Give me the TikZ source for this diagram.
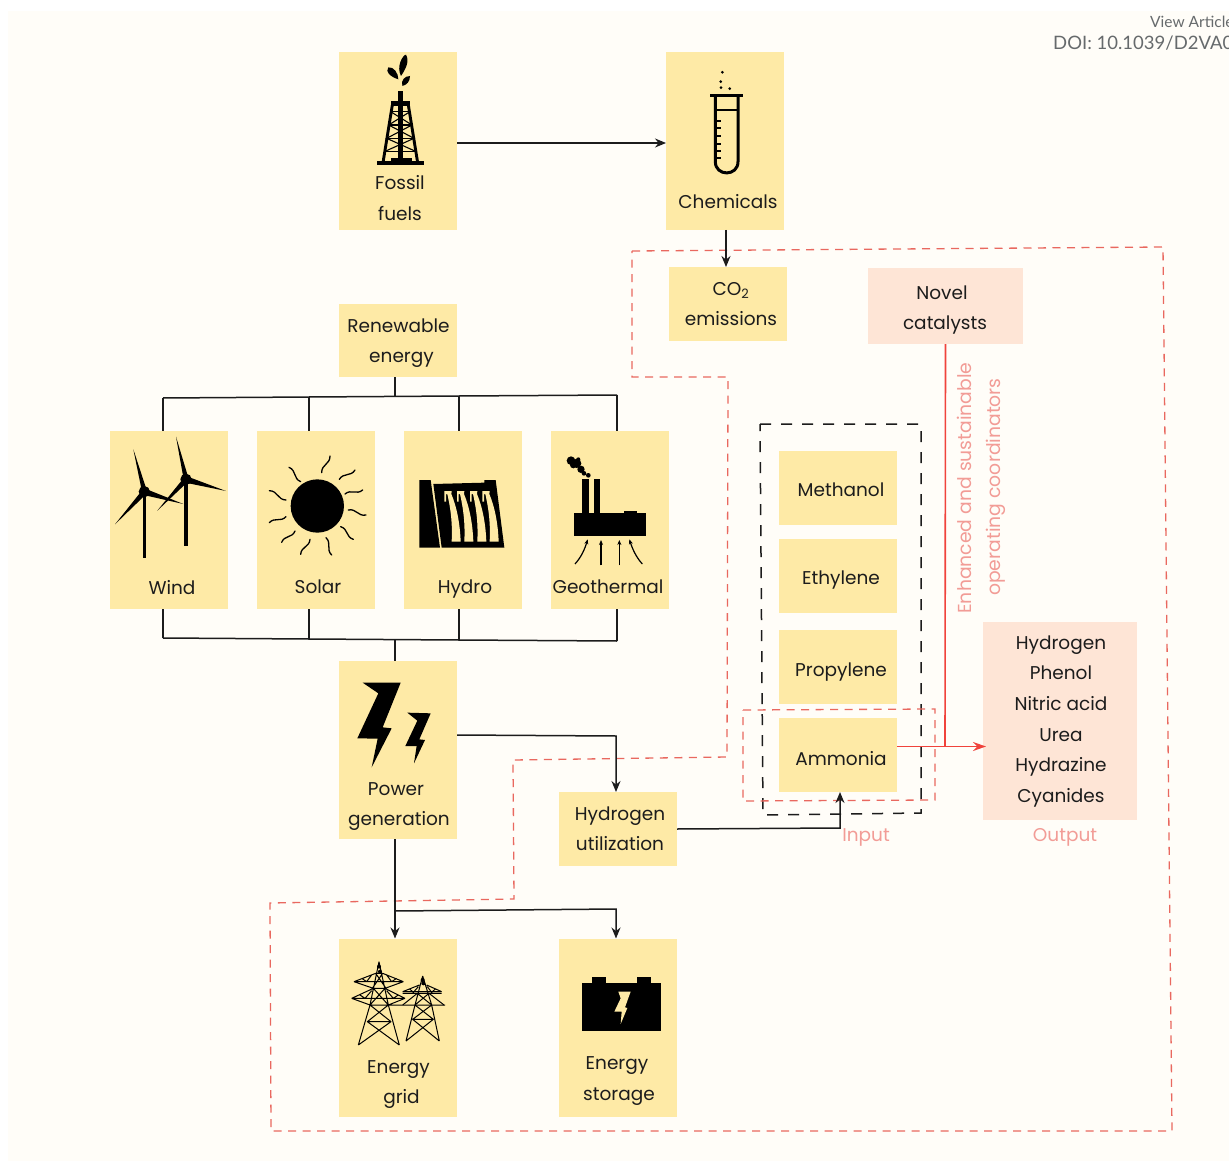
\documentclass[tikz,border=0pt]{standalone}
\usepackage{fontspec}
\setmainfont{Poppins}
\newfontfamily\doifont{Lato}
\usetikzlibrary{arrows.meta,calc}
\definecolor{boxy}{HTML}{FEEAA6}
\definecolor{boxp}{HTML}{FEE5D6}
\definecolor{pagebg}{HTML}{FFFDF8}
\definecolor{ink}{HTML}{1C1C1C}
\definecolor{redsolid}{HTML}{F0433C}
\definecolor{reddash}{HTML}{E9685F}
\definecolor{softred}{HTML}{F29C96}
\definecolor{greytxt}{HTML}{666A6C}
\tikzset{
  x=1pt,y=-1pt,
  tallbox/.style={fill=boxy,draw=none,inner sep=0,outer sep=0,minimum width=118pt,minimum height=178pt},
  shortbox/.style={fill=boxy,draw=none,inner sep=0,outer sep=0,minimum width=118pt,minimum height=74pt},
  peachbox/.style={fill=boxp,draw=none,inner sep=0,outer sep=0},
  lbl/.style={inner sep=0,outer sep=0,text=ink,align=center,yshift=-4pt,
    font=\fontsize{18.5}{30.6}\selectfont,
    execute at begin node={\rule[-8pt]{0pt}{16pt}},
    execute at end node={\rule[-8pt]{0pt}{16pt}}},
  softlbl/.style={lbl,text=softred},
  rotlbl/.style={inner sep=0,text=softred,rotate=90,font=\fontsize{18.8}{22}\selectfont},
  link/.style={draw=ink,line width=1.5pt},
  arrowlink/.style={link,-{Stealth[length=11pt,width=9pt]}},
  redlink/.style={draw=redsolid,line width=1.6pt},
  redarrow/.style={redlink,-{Stealth[length=13pt,width=9pt]}},
  reddashed/.style={draw=reddash,line width=1.3pt,dash pattern=on 8pt off 6.5pt},
  blackdashed/.style={draw=ink,line width=1.5pt,dash pattern=on 11pt off 10pt},
  icon/.style={fill=black,draw=none},
  iconline/.style={draw=black,fill=none},
  zoomed/.style={x=.33333pt,y=-.33333pt},
}
\begin{document}
\begin{tikzpicture}
\clip (0,0) rectangle (1229,1161);
\fill[white] (0,0) rectangle (1229,1161);
\fill[pagebg] (8,11) rectangle (1229,1161);

% ---------- boxes
\node[tallbox] (fossil) at (398,141) {};
\node[tallbox] (chem) at (725,141) {};
\node[shortbox] (co2) at (728,304) {};
\node[peachbox,minimum width=155pt,minimum height=76pt] (novel) at (945.5,306) {};
\node[shortbox,minimum height=73pt] (renew) at (398,340.5) {};
\node[tallbox] (wind) at (169,520) {};
\node[tallbox] (solar) at (316,520) {};
\node[tallbox] (hydro) at (463,520) {};
\node[tallbox] (geo) at (610,520) {};
\node[tallbox] (power) at (398,750) {};
\node[shortbox] (hyd) at (618,829) {};
\node[tallbox] (grid) at (398,1027.5) {};
\node[tallbox] (storage) at (618,1027.5) {};
\node[shortbox] (meth) at (838,488) {};
\node[shortbox] (ethy) at (838,576) {};
\node[shortbox] (prop) at (838,667) {};
\node[shortbox] (ammo) at (838,755) {};
\node[peachbox,minimum width=154pt,minimum height=198pt] (out) at (1060,721) {};

% ---------- region frames
\draw[reddashed] (632,251) -- (1163,247) -- (1172,1131) -- (271,1131) -- (270,903) -- (514,899) -- (513,760) -- (727,757) -- (728,377) -- (632,377) -- cycle;
\draw[blackdashed] (760,424) -- (921,424) -- (921,813) -- (763,815) -- cycle;
\draw[reddashed] (743,710) -- (935,709) -- (935,800) -- (743,801) -- cycle;

% ---------- junctions
\coordinate (topbar) at (395,396.5);
\coordinate (topW) at (163,398);
\coordinate (topS) at (309,397);
\coordinate (topH) at (459,396);
\coordinate (topG) at (617,395);
\coordinate (botbar) at (395,640);
\coordinate (botW) at (163,638);
\coordinate (botS) at (309,639);
\coordinate (botH) at (459,640);
\coordinate (botG) at (617,641);
\coordinate (pwrturn) at (616,736);
\coordinate (gridfork) at (395,911);
\coordinate (storturn) at (616,909);
\coordinate (inturn) at (840,828);
\coordinate (redjoin) at (945,746.5);
\coordinate (redtip) at (986,746.5);

% ---------- connectors
\draw[arrowlink] ([yshift=-2pt]fossil.east) -- ([yshift=-2pt]chem.west);
\draw[arrowlink] ([xshift=1pt]chem.south) -- ([xshift=-2pt]co2.north);
\draw[link] (renew.south -| topbar) -- (topbar);
\draw[link] (topW) -- (topS) -- (topH) -- (topG);
\draw[link] (topW) -- (topW |- wind.north);
\draw[link] (topS) -- (topS |- solar.north);
\draw[link] (topH) -- (topH |- hydro.north);
\draw[link] (topG) -- (topG |- geo.north);
\draw[link] (botW) -- (botW |- wind.south);
\draw[link] (botS) -- (botS |- solar.south);
\draw[link] (botH) -- (botH |- hydro.south);
\draw[link] (botG) -- (botG |- geo.south);
\draw[link] (botW) -- (botS) -- (botH) -- (botG);
\draw[link] (botbar) -- (botbar |- power.north);
\draw[arrowlink] (power.east |- 0,735) -- (pwrturn) -- (pwrturn |- hyd.north);
\draw[arrowlink] (power.south -| gridfork) -- (gridfork |- grid.north);
\draw[arrowlink] (gridfork) -- (storturn) -- (storturn |- storage.north);
\draw[arrowlink] (hyd.east |- 0,829) -- (inturn) -- (inturn |- ammo.south);
\draw[redlink] (novel.south) -- (redjoin);
\draw[redarrow] (ammo.east |- redjoin) -- (redtip);

% ---------- labels
\node[lbl] (tfossil) at (400,198) {Fossil\\fuels};
\node[lbl] (tchem) at (728,201) {Chemicals};
\node[lbl] (tco2) at (731,304) {CO\textsubscript{2}\\emissions};
\node[lbl] (tnovel) at (945,307.5) {Novel\hspace*{6pt}\\\hspace*{0pt}catalysts};
\node[lbl] (trenew) at (398.5,340.5) {Renewable\\\hspace*{6pt}energy};
\node[lbl] (twind) at (172,587) {Wind};
\node[lbl] (tsolar) at (318,587) {Solar};
\node[lbl] (thydro) at (465,587) {Hydro};
\node[lbl] (tgeo) at (608,587) {Geothermal};
\node[lbl] (tpower) at (399,804) {Power\hspace*{6pt}\\generation};
\node[lbl] (thyd) at (620,828.5) {Hydrogen\\utilization};
\node[lbl] (tgrid) at (398.5,1082) {Energy\\\hspace*{6pt}grid};
\node[lbl] (tstor) at (619,1078.5) {Energy\hspace*{4pt}\\storage};
\node[lbl] (tmeth) at (841,490) {Methanol};
\node[lbl] (tethy) at (841,578) {Ethylene};
\node[lbl] (tprop) at (841,670) {Propylene};
\node[lbl] (tammo) at (841,758) {Ammonia};
\node[lbl] (tout) at (1061,719) {Hydrogen\\Phenol\\Nitric acid\\Urea\\Hydrazine\\Cyanides};
\node[softlbl] (tinput) at (866,835) {Input};
\node[softlbl] (toutput) at (1065,835) {Output};
\node[rotlbl] (tenh) at (964,488) {Enhanced and sustainable};
\node[rotlbl] (topc) at (996,487) {operating coordinators};
\node[anchor=base west,inner sep=0,text=greytxt,font=\doifont\fontsize{15.5}{18}\selectfont] (tview) at (1150,28) {View Article};
\node[anchor=base west,inner sep=0,text=greytxt,font=\doifont\fontsize{18.5}{22}\selectfont] (tdoi) at (1053,50) {DOI: 10.1039/D2VA0};

% ---------- icon: oil derrick
\begin{scope}[shift={(370,50)},zoomed]
\fill[icon] (93,78) .. controls (78,50) and (98,15) .. (108,14) .. controls (120,35) and (105,60) .. cycle;
\fill[icon] (85,88) .. controls (60,80) and (45,65) .. (55,52) .. controls (72,50) and (85,70) .. cycle;
\fill[icon] (97,108) .. controls (92,90) and (105,78) .. (120,78) .. controls (120,95) and (110,105) .. cycle;
\fill[icon] (20,333) rectangle (162,346);
\fill[icon] (62,325) rectangle (125,335);
\fill[icon] (62,152) rectangle (120,168);
\fill[icon] (85,122) rectangle (98,335);
\draw[iconline,line width=2.9pt] (39,338) -- (67,165) (143,338) -- (115,165);
\draw[iconline,line width=1.1pt] (62,185) -- (120,185) (56,225) -- (126,225) (50,265) -- (132,265) (43,305) -- (139,305);
\draw[iconline,line width=1.1pt] (62,185) -- (126,225) -- (50,265) -- (139,305) (120,185) -- (56,225) -- (132,265) -- (43,305);
\end{scope}

% ---------- icon: test tube
\begin{scope}[shift={(330,40)},zoomed]
\draw[iconline,line width=3pt] (1156,166) -- (1156,365) .. controls (1156,410) and (1224,410) .. (1224,365) -- (1224,166);
\draw[iconline,line width=3pt] (1140,166) -- (1239,166);
\draw[iconline,line width=2pt] (1156,210) -- (1224,210);
\foreach \yy in {242,265,288,311,334,355} \draw[iconline,line width=1.8pt] (1156,\yy) -- (1174,\yy);
\foreach \xx/\yy in {1177/97,1172/125,1173/143,1199/146} \fill[icon] (\xx,\yy) circle[radius=4.5];
\end{scope}

% ---------- icon: wind turbines
\begin{scope}[shift={(100,420)},zoomed]
\foreach \hx/\hy/\by/\ax/\ay/\bx/\bby/\cx/\cy in {133/215/415/100/88/250/252/45/313, 258/178/377/228/50/378/213/172/272}{
  \fill[icon] (\hx-5,\hy) rectangle (\hx+6,\by);
  \fill[icon] (\hx,\hy) circle[radius=17];
  \fill[icon] (\hx-7,\hy) -- (\ax,\ay) -- (\hx+7,\hy-5) -- cycle;
  \fill[icon] (\hx,\hy-10) -- (\bx,\bby) -- (\hx-2,\hy+10) -- cycle;
  \fill[icon] (\hx-6,\hy-5) -- (\cx,\cy) -- (\hx+7,\hy+6) -- cycle;
}
\end{scope}

% ---------- icon: sun
\begin{scope}[shift={(100,420)},zoomed]
\fill[icon] (652,258) circle[radius=80];
\foreach \ax/\ay/\bx/\by in {665/158/690/108,718/178/765/150,735/222/788/210,745/270/798/285,722/320/760/358,678/353/695/405,630/358/602/403,585/333/545/367,558/290/508/308,558/240/508/212,602/185/567/142}{
  \draw[iconline,line width=1.3pt,line cap=round] (\ax,\ay) .. controls ($(\ax,\ay)!.45!28:(\bx,\by)$) and ($(\bx,\by)!.45!28:(\ax,\ay)$) .. (\bx,\by);
}
\end{scope}

% ---------- icon: dam
\begin{scope}[shift={(395,420)},zoomed]
\fill[icon] (73,180) -- (107,180) -- (135,383) -- (73,383) -- cycle;
\fill[icon] (115,192) -- (268,188) -- (268,180) -- (302,180) -- (328,383) -- (140,383) -- cycle;
\end{scope}
\begin{scope}[shift={(410,470)},zoomed]
\foreach \dx in {0,38,77,114}{
  \fill[boxy] (103+\dx,63) -- (125+\dx,63) -- (124+\dx,72) .. controls (140+\dx,110) and (150+\dx,160) .. (152+\dx,215) -- (125+\dx,215) .. controls (127+\dx,170) and (125+\dx,130) .. (112+\dx,72) -- (108+\dx,72) -- (108+\dx,95) -- (103+\dx,95) -- cycle;
}
\end{scope}

% ---------- icon: geothermal plant
\begin{scope}[shift={(395,420)},zoomed]
\fill[icon] (538,280) rectangle (752,347);
\fill[icon] (686,272) rectangle (726,281);
\fill[icon] (562,178) rectangle (583,281);
\fill[icon] (598,178) rectangle (616,281);
\foreach \xx/\yy/\rr in {528/122/13,545/130/14,558/148/11,567/160/7,580/166/7,535/135/10,550/118/6}\fill[icon] (\xx,\yy) circle[radius=\rr];
\draw[iconline,line width=1.2pt,-{Stealth[length=5pt,width=4pt]}] (540,432) .. controls (560,410) and (570,385) .. (578,358);
\draw[iconline,line width=1.2pt,-{Stealth[length=5pt,width=4pt]}] (618,436) -- (618,360);
\draw[iconline,line width=1.2pt,-{Stealth[length=5pt,width=4pt]}] (673,436) -- (673,360);
\draw[iconline,line width=1.2pt,-{Stealth[length=5pt,width=4pt]}] (742,432) .. controls (722,410) and (712,385) .. (703,358);
\end{scope}

% ---------- icon: lightning bolts
\begin{scope}[shift={(330,650)},zoomed]
\fill[icon] (98,98) -- (212,98) -- (158,232) -- (185,235) -- (125,352) -- (143,266) -- (82,265) -- (145,130) -- cycle;
\fill[icon] (232,188) -- (302,190) -- (268,268) -- (285,270) -- (252,340) -- (260,288) -- (226,288) -- (262,212) -- cycle;
\end{scope}

% ---------- icon: pylons
\begin{scope}[shift={(330,930)},zoomed]
\draw[iconline,line width=1pt,line join=round]
  (147,95) -- (120,225) -- (85,345) (147,95) -- (175,225) -- (208,345)
  (208,345) -- (112,275) -- (183,275) -- (85,345)
  (120,225) -- (183,275) (175,225) -- (112,275)
  (120,225) -- (175,225) (130,175) -- (165,175) -- (120,225) (130,175) -- (175,225)
  (137,130) -- (158,130) -- (127,175) (137,130) -- (168,175)
  (72,155) -- (137,130) (220,155) -- (158,130) (72,155) -- (220,155)
  (65,205) -- (130,175) (225,205) -- (165,175) (65,205) -- (225,205)
  (72,155) -- (130,175) (220,155) -- (165,175) (65,205) -- (120,225) (225,205) -- (175,225)
  (95,145) -- (110,155) -- (125,135) (200,145) -- (185,155) -- (170,135)
  (90,195) -- (105,205) -- (125,182) (205,195) -- (190,205) -- (170,182)
  (120,225) -- (345,225);
\draw[iconline,line width=1pt,line join=round]
  (278,138) -- (255,225) -- (228,333) (278,138) -- (305,225) -- (328,333)
  (328,333) -- (248,268) -- (310,268) -- (228,333)
  (255,225) -- (310,268) (305,225) -- (248,268)
  (262,190) -- (297,190) -- (255,225) (262,190) -- (305,225)
  (218,185) -- (268,165) (335,185) -- (290,165) (218,185) -- (335,185)
  (218,225) -- (262,190) (342,225) -- (297,190) (218,190) -- (262,190) (335,190) -- (297,190)
  (240,178) -- (250,187) -- (265,170) (315,178) -- (305,187) -- (292,170);
\foreach \xx/\yy in {147/110,278/150,150/125,280/160}\fill[icon] (\xx,\yy) circle[radius=6];
\end{scope}

% ---------- icon: battery
\begin{scope}[shift={(330,930)},zoomed]
\fill[icon] (757,158) rectangle (992,303);
\fill[icon] (786,140) rectangle (827,158);
\fill[icon] (921,140) rectangle (962,158);
\fill[boxy] (865,185) -- (902,185) -- (885,232) -- (892,234) -- (872,282) -- (875,245) -- (853,245) -- (872,205) -- cycle;
\end{scope}
\end{tikzpicture}
\end{document}
